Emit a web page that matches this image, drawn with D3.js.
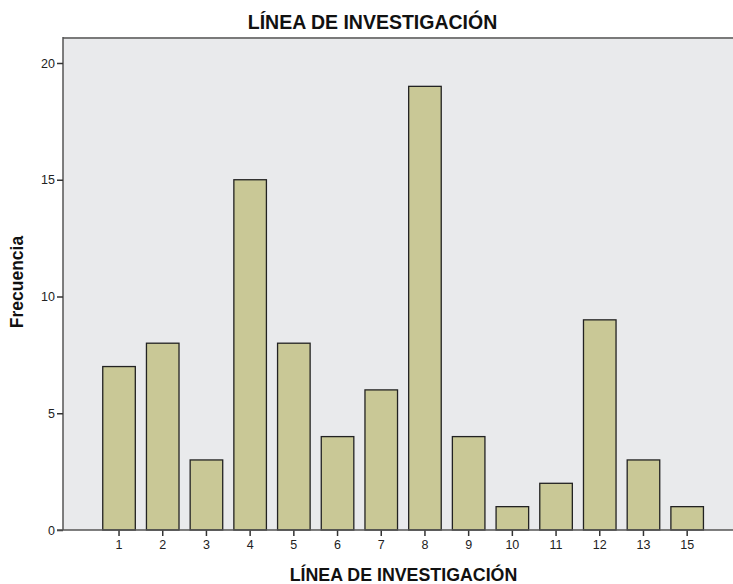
<!DOCTYPE html>
<html><head><meta charset="utf-8">
<script src="https://cdn.jsdelivr.net/npm/d3@7"></script>
<style>body{margin:0;background:#fff;} text{font-family:"Liberation Sans",Arial,sans-serif;}</style>
</head><body>
<svg id="c" width="733" height="584"></svg>
<script>
const categories = ["1","2","3","4","5","6","7","8","9","10","11","12","13","15"];
const values = [7,8,3,15,8,4,6,19,4,1,2,9,3,1];
const yTicks = [0,5,10,15,20];
const title = "LÍNEA DE INVESTIGACIÓN";
const xTitle = "LÍNEA DE INVESTIGACIÓN";
const yTitle = "Frecuencia";

(function(){
const svg = d3.select("#c");
const mLeft = 63, mTop = 38, mRight = 733, mBottom = 530;
svg.append("rect").attr("x", mLeft).attr("y", mTop).attr("width", mRight-mLeft).attr("height", mBottom-mTop).attr("fill", "#e9eaec");

const x = d3.scaleBand().domain(categories).range([97.2, 709]).paddingInner(0.255).paddingOuter(0.127);
const y = d3.scaleLinear().domain([0,20]).range([mBottom, 63]);

svg.append("g").selectAll("rect").data(values).join("rect")
  .attr("x", (d,i)=>x(categories[i]))
  .attr("y", d=>y(d))
  .attr("width", x.bandwidth())
  .attr("height", d=>mBottom - y(d))
  .attr("fill", "#c9c896").attr("stroke", "#222").attr("stroke-width", 1.3);

svg.append("line").attr("x1", mLeft).attr("x2", mRight).attr("y1", mTop).attr("y2", mTop).attr("stroke", "#7a7a7a").attr("stroke-width", 2);
svg.append("line").attr("x1", mLeft).attr("x2", mLeft).attr("y1", mTop-1).attr("y2", mBottom).attr("stroke", "#555").attr("stroke-width", 1.5);

const ya = svg.append("g").attr("transform", `translate(${mLeft},0)`).call(d3.axisLeft(y).tickValues(yTicks).tickSize(6).tickPadding(2).tickFormat(d3.format("d")));
ya.select(".domain").remove();
ya.selectAll("line").attr("stroke", "#333").attr("stroke-width", 1.5);
ya.selectAll("text").attr("font-size", 12.5).attr("fill", "#222").attr("font-family", "Liberation Sans, Arial, sans-serif");

const xa = svg.append("g").attr("transform", `translate(0,${mBottom})`).call(d3.axisBottom(x).tickSize(6).tickPadding(4));
xa.select(".domain").remove();
xa.selectAll("line").attr("stroke", "#333").attr("stroke-width", 1.5);
xa.selectAll("text").attr("font-size", 12.5).attr("fill", "#222").attr("font-family", "Liberation Sans, Arial, sans-serif");
svg.append("line").attr("x1", mLeft-6).attr("x2", mRight).attr("y1", mBottom).attr("y2", mBottom).attr("stroke", "#555").attr("stroke-width", 1.5);

svg.append("text").attr("x", 372.5).attr("y", 29).attr("text-anchor", "middle").attr("font-size", 19.5).attr("font-weight", "bold").attr("fill", "#111").text(title);
svg.append("text").attr("x", 403.5).attr("y", 581).attr("text-anchor", "middle").attr("font-size", 17.8).attr("font-weight", "bold").attr("fill", "#111").text(xTitle);
svg.append("text").attr("transform", "translate(23,282) rotate(-90)").attr("text-anchor", "middle").attr("font-size", 17.5).attr("font-weight", "bold").attr("fill", "#111").text(yTitle);
})();
</script>
</body></html>
